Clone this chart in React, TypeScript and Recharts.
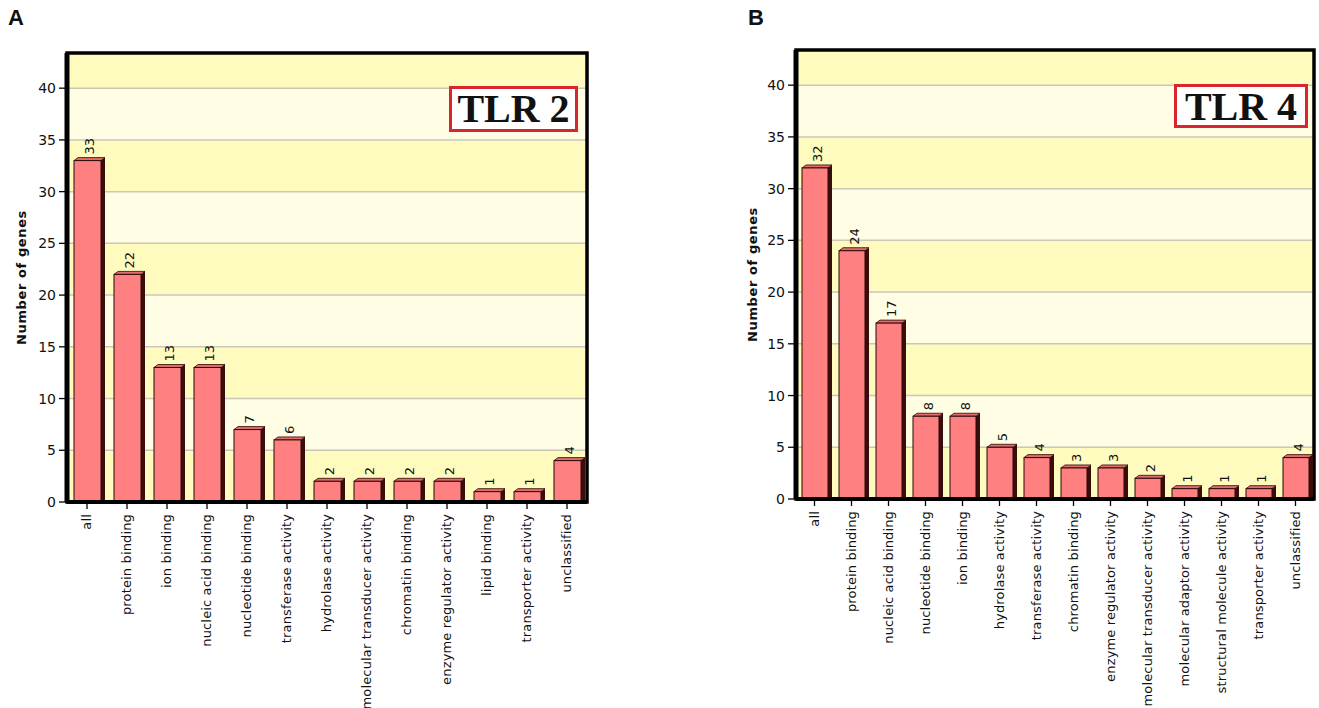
import React from 'react';
import { BarChart, Bar, XAxis, YAxis, CartesianGrid, ReferenceArea, LabelList } from 'recharts';

const tlr2Categories = [
  'all',
  'protein binding',
  'ion binding',
  'nucleic acid binding',
  'nucleotide binding',
  'transferase activity',
  'hydrolase activity',
  'molecular transducer activity',
  'chromatin binding',
  'enzyme regulator activity',
  'lipid binding',
  'transporter activity',
  'unclassified',
];
const tlr2Values = [33, 22, 13, 13, 7, 6, 2, 2, 2, 2, 1, 1, 4];

const tlr4Categories = [
  'all',
  'protein binding',
  'nucleic acid binding',
  'nucleotide binding',
  'ion binding',
  'hydrolase activity',
  'transferase activity',
  'chromatin binding',
  'enzyme regulator activity',
  'molecular transducer activity',
  'molecular adaptor activity',
  'structural molecule activity',
  'transporter activity',
  'unclassified',
];
const tlr4Values = [32, 24, 17, 8, 8, 5, 4, 3, 3, 2, 1, 1, 1, 4];

const yTicks = [0, 5, 10, 15, 20, 25, 30, 35, 40];
const yMax = 43.4;
const yTitle = 'Number of genes';

const tlr2Data = tlr2Categories.map((name, i) => ({ name, value: tlr2Values[i] }));
const tlr4Data = tlr4Categories.map((name, i) => ({ name, value: tlr4Values[i] }));

const FONT = "'DejaVu Sans', Verdana, sans-serif";
const DARK_BAND = '#FFFBBE';
const LIGHT_BAND = '#FFFDE3';

const YTick = (props: any) => {
  const { x, y, payload } = props;
  if (payload.value > 40) return null;
  return (
    <g>
      <line x1={x + 3} x2={x + 11} y1={y} y2={y} stroke="#000" strokeWidth={1.3} />
      <text x={x} y={y} dy="0.36em" textAnchor="end" fontFamily={FONT} fontSize={14} fill="#111">
        {payload.value}
      </text>
    </g>
  );
};

const XTick = (props: any) => {
  const { x, y, payload } = props;
  return (
    <text
      x={x}
      y={y}
      transform={`rotate(-90, ${x}, ${y})`}
      textAnchor="end"
      dy="0.32em"
      fontFamily={FONT}
      fontSize={13}
      letterSpacing={0.15}
      fill="#111"
    >
      {payload.value}
    </text>
  );
};

const Bar3D = (props: any) => {
  const { x, y, width, height } = props;
  if (!height || height <= 0) return null;
  const d = 4;
  const e = 3;
  return (
    <g>
      <polygon
        points={`${x + width},${y} ${x + width + d},${y - e} ${x + width + d},${y + height} ${x + width},${y + height}`}
        fill="#3a0c0c"
      />
      <polygon
        points={`${x},${y} ${x + d},${y - e} ${x + width + d},${y - e} ${x + width},${y}`}
        fill="#e26c6c"
        stroke="#2a0808"
        strokeWidth={0.8}
      />
      <rect x={x} y={y} width={width} height={height} fill="#FF8080" stroke="#2a0808" strokeWidth={1} />
    </g>
  );
};

const ValueLabel = (props: any) => {
  const { x, y, width, value } = props;
  const cx = x + width / 2 + 2;
  const ty = y - 6;
  return (
    <text
      x={cx}
      y={ty}
      transform={`rotate(-90, ${cx}, ${ty})`}
      textAnchor="start"
      dy="0.36em"
      fontFamily={FONT}
      fontSize={13}
      fill="#111"
    >
      {value}
    </text>
  );
};

type PanelProps = {
  data: { name: string; value: number }[];
  width: number;
  marginTop: number;
  marginRight: number;
  yAxisWidth: number;
  xAxisHeight: number;
  barSize: number;
  titleOffset: number;
};

const Panel = ({ data, width, marginTop, marginRight, yAxisWidth, xAxisHeight, barSize, titleOffset }: PanelProps) => (
  <BarChart
    width={width}
    height={708}
    data={data}
    margin={{ top: marginTop, right: marginRight, left: 0, bottom: 0 }}
    barCategoryGap={0}
  >
    <CartesianGrid
      vertical={false}
      stroke="#C9C7B8"
      strokeWidth={1.5}
      horizontalFill={[DARK_BAND, LIGHT_BAND]}
      fillOpacity={1}
    />
    <XAxis
      dataKey="name"
      interval={0}
      tickSize={7}
      tickMargin={5}
      height={xAxisHeight}
      axisLine={{ stroke: '#000', strokeWidth: 4 }}
      tickLine={{ stroke: '#000', strokeWidth: 1.3 }}
      tick={<XTick />}
    />
    <YAxis
      type="number"
      domain={[0, yMax]}
      ticks={[...yTicks, yMax]}
      width={yAxisWidth}
      tickSize={8}
      tickMargin={3}
      tickLine={false}
      axisLine={{ stroke: '#000', strokeWidth: 5 }}
      tick={<YTick />}
      label={{
        value: yTitle,
        angle: -90,
        position: 'insideLeft',
        offset: titleOffset,
        style: {
          textAnchor: 'middle',
          fontFamily: FONT,
          fontWeight: 'bold',
          fontSize: 13,
          letterSpacing: 0.6,
          fill: '#111',
        },
      }}
    />
    <ReferenceArea
      y1={0}
      y2={yMax}
      fill="none"
      stroke="#000"
      strokeWidth={3.5}
      ifOverflow="visible"
    />
    <Bar dataKey="value" barSize={barSize} shape={<Bar3D />} isAnimationActive={false}>
      <LabelList dataKey="value" content={<ValueLabel />} />
    </Bar>
  </BarChart>
);

const boxStyle: React.CSSProperties = {
  position: 'absolute',
  boxSizing: 'border-box',
  border: '3px solid #D8262C',
  background: '#FFFFFF',
  fontFamily: "'Liberation Serif', 'Times New Roman', serif",
  fontWeight: 'bold',
  fontSize: 40,
  lineHeight: '40px',
  textAlign: 'center',
  color: '#111',
  whiteSpace: 'nowrap',
};

const letterStyle: React.CSSProperties = {
  position: 'absolute',
  fontFamily: "'Liberation Sans', Arial, sans-serif",
  fontWeight: 'bold',
  fontSize: 22,
  lineHeight: '24px',
  color: '#111',
};

export default function App() {
  return (
    <div style={{ position: 'absolute', left: 0, top: 0, width: 1319, height: 708, background: '#fff', overflow: 'hidden' }}>
      <div style={{ position: 'absolute', left: 0, top: 0 }}>
        <Panel
          data={tlr2Data}
          width={600}
          marginTop={53}
          marginRight={13}
          yAxisWidth={67}
          xAxisHeight={206}
          barSize={27}
          titleOffset={21}
        />
      </div>
      <div style={{ position: 'absolute', left: 730, top: 0 }}>
        <Panel
          data={tlr4Data}
          width={589}
          marginTop={50}
          marginRight={5}
          yAxisWidth={66}
          xAxisHeight={209}
          barSize={26}
          titleOffset={22}
        />
      </div>
      <div style={{ ...letterStyle, left: 8, top: 6 }}>A</div>
      <div style={{ ...letterStyle, left: 748, top: 6 }}>B</div>
      <div style={{ ...boxStyle, left: 449, top: 86, width: 129, height: 46 }}>TLR 2</div>
      <div style={{ ...boxStyle, left: 1174, top: 84, width: 134, height: 44 }}>TLR 4</div>
    </div>
  );
}
